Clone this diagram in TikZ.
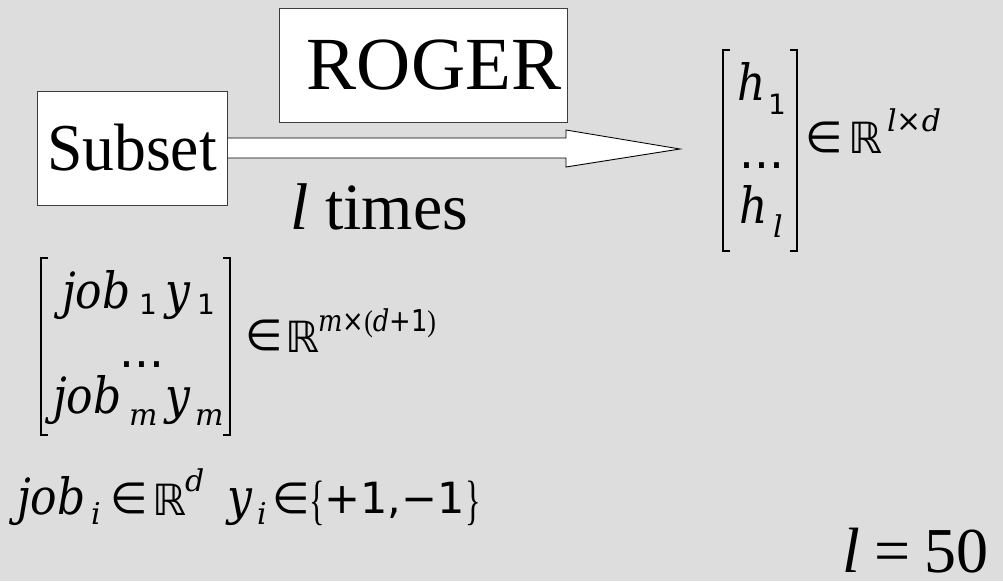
\documentclass[tikz,border=0pt]{standalone}
\usepackage{fontspec}
\setmainfont{Liberation Serif}
\newfontfamily\varfont{DejaVu Serif}
\newfontfamily\dvs{DejaVu Sans}
\usetikzlibrary{calc}
\definecolor{bg}{RGB}{221,221,221}
\definecolor{edge}{RGB}{60,60,60}
\newcommand\fsz[1]{\fontsize{#1}{#1}\selectfont}
\newcommand\vv[1]{{\varfont\itshape #1}}
\newcommand\narrow[1]{\scalebox{0.88}[1]{#1}}
\tikzset{
  txt/.style={inner sep=0pt, anchor=base west},
  boxnode/.style={draw=edge, line width=1pt, fill=white, inner sep=0pt},
  hollow/.style={draw=black, line width=0.9pt, fill=white, line join=miter},
  brk/.style={line width=2.2pt, line cap=butt, line join=miter},
  mainv/.style={txt, font=\fsz{50}},
  subv/.style={txt, font=\fsz{30}},
  subd/.style={txt, font=\fsz{28}\dvs},
  setf/.style={txt, font=\fsz{43}\dvs},
  brace/.style={txt, font=\fsz{54}},
}
\begin{document}
\begin{tikzpicture}[x=1pt, y=-1pt]
\useasboundingbox (0,0) rectangle (1003,581);
\fill[bg] (0,0) rectangle (1003,581);

% boxes
\node[boxnode, minimum width=288pt, minimum height=114pt, font=\fsz{75}] (roger) at (423,65) {\hspace*{22pt}ROGER};
\node[boxnode, minimum width=190pt, minimum height=114pt, font=\fsz{67}] (subset) at (132,148) {\scalebox{0.95}[1]{Subset}};

% hollow arrow
\coordinate (tip) at (680,149);
\draw[hollow] ($(subset.east)+(0.5,-10)$) -- (566,138) -- (566,130) -- (tip) -- (566,167) -- (566,158) -- ($(subset.east)+(0.5,10)$);

\node[txt, font=\fsz{66}] (ltimes) at (290,229) {\textit{l}\hspace{0.25em}times};

% right matrix
\draw[brk] (730,50) -- (723,50) -- (723,251) -- (730,251);
\draw[brk] (790,50) -- (797,50) -- (797,251) -- (790,251);
\node[mainv] (h1) at (737,100) {\narrow{\vv{h}}};
\node[subd] (h1s) at (768,114) {1};
\node[txt, font=\fsz{47}\dvs] (rdots) at (739,168) {...};
\node[mainv] (hl) at (739,223) {\narrow{\vv{h}}};
\node[subv] (hls) at (773,237) {\vv{l}};
\node[setf] (rin) at (805,152) {∈};
\node[setf] (rR) at (848,153) {ℝ};
\node[subv, font=\fsz{30}] (rsup) at (887,131) {\vv{l}{\dvs ×}\vv{d}};

% left matrix
\draw[brk] (48,258) -- (41,258) -- (41,435) -- (48,435);
\draw[brk] (223,258) -- (230,258) -- (230,435) -- (223,435);
\node[mainv] (job1) at (62,308) {\narrow{\vv{job}}};
\node[subd] (job1s) at (139,314) {1};
\node[mainv] (y1) at (165,308) {\narrow{\vv{y}}};
\node[subd] (y1s) at (197,314) {1};
\node[txt, font=\fsz{47}\dvs] (ldots) at (119,367) {...};
\node[mainv] (jobm) at (53,413) {\narrow{\vv{job}}};
\node[subv] (jobms) at (129,425) {\vv{m}};
\node[mainv] (ym) at (165,413) {\narrow{\vv{y}}};
\node[subv] (yms) at (195,425) {\vv{m}};
\node[setf] (lin) at (245,350) {∈};
\node[setf] (lR) at (285,352) {ℝ};
\node[subv, font=\fsz{30}] (lsup) at (318,331) {\scalebox{0.86}[1]{\vv{m}{\dvs ×}(\vv{d}{\dvs +1})}};

% bottom line
\node[mainv] (jobi) at (17,514) {\narrow{\vv{job}}};
\node[subv] (jobis) at (91,524) {\vv{i}};
\node[setf] (bin1) at (110,513) {∈};
\node[setf] (bR) at (152,515) {ℝ};
\node[subv] (bsup) at (185,491) {\vv{d}};
\node[mainv] (yi) at (227,514) {\narrow{\vv{y}}};
\node[subv] (yis) at (257,524) {\vv{i}};
\node[setf] (bin2) at (272,513) {∈};
\node[brace] (lbr) at (309,518) {\scalebox{0.6}[1]{\{}};
\node[setf] (pm) at (324,513) {+1,−1};
\node[brace] (rbr) at (465,518) {\scalebox{0.6}[1]{\}}};

% l = 50
\node[txt, font=\fsz{64}] (leq) at (842,572) {\textit{l}\hspace{0.22em}=\hspace{0.22em}50};
\end{tikzpicture}
\end{document}
